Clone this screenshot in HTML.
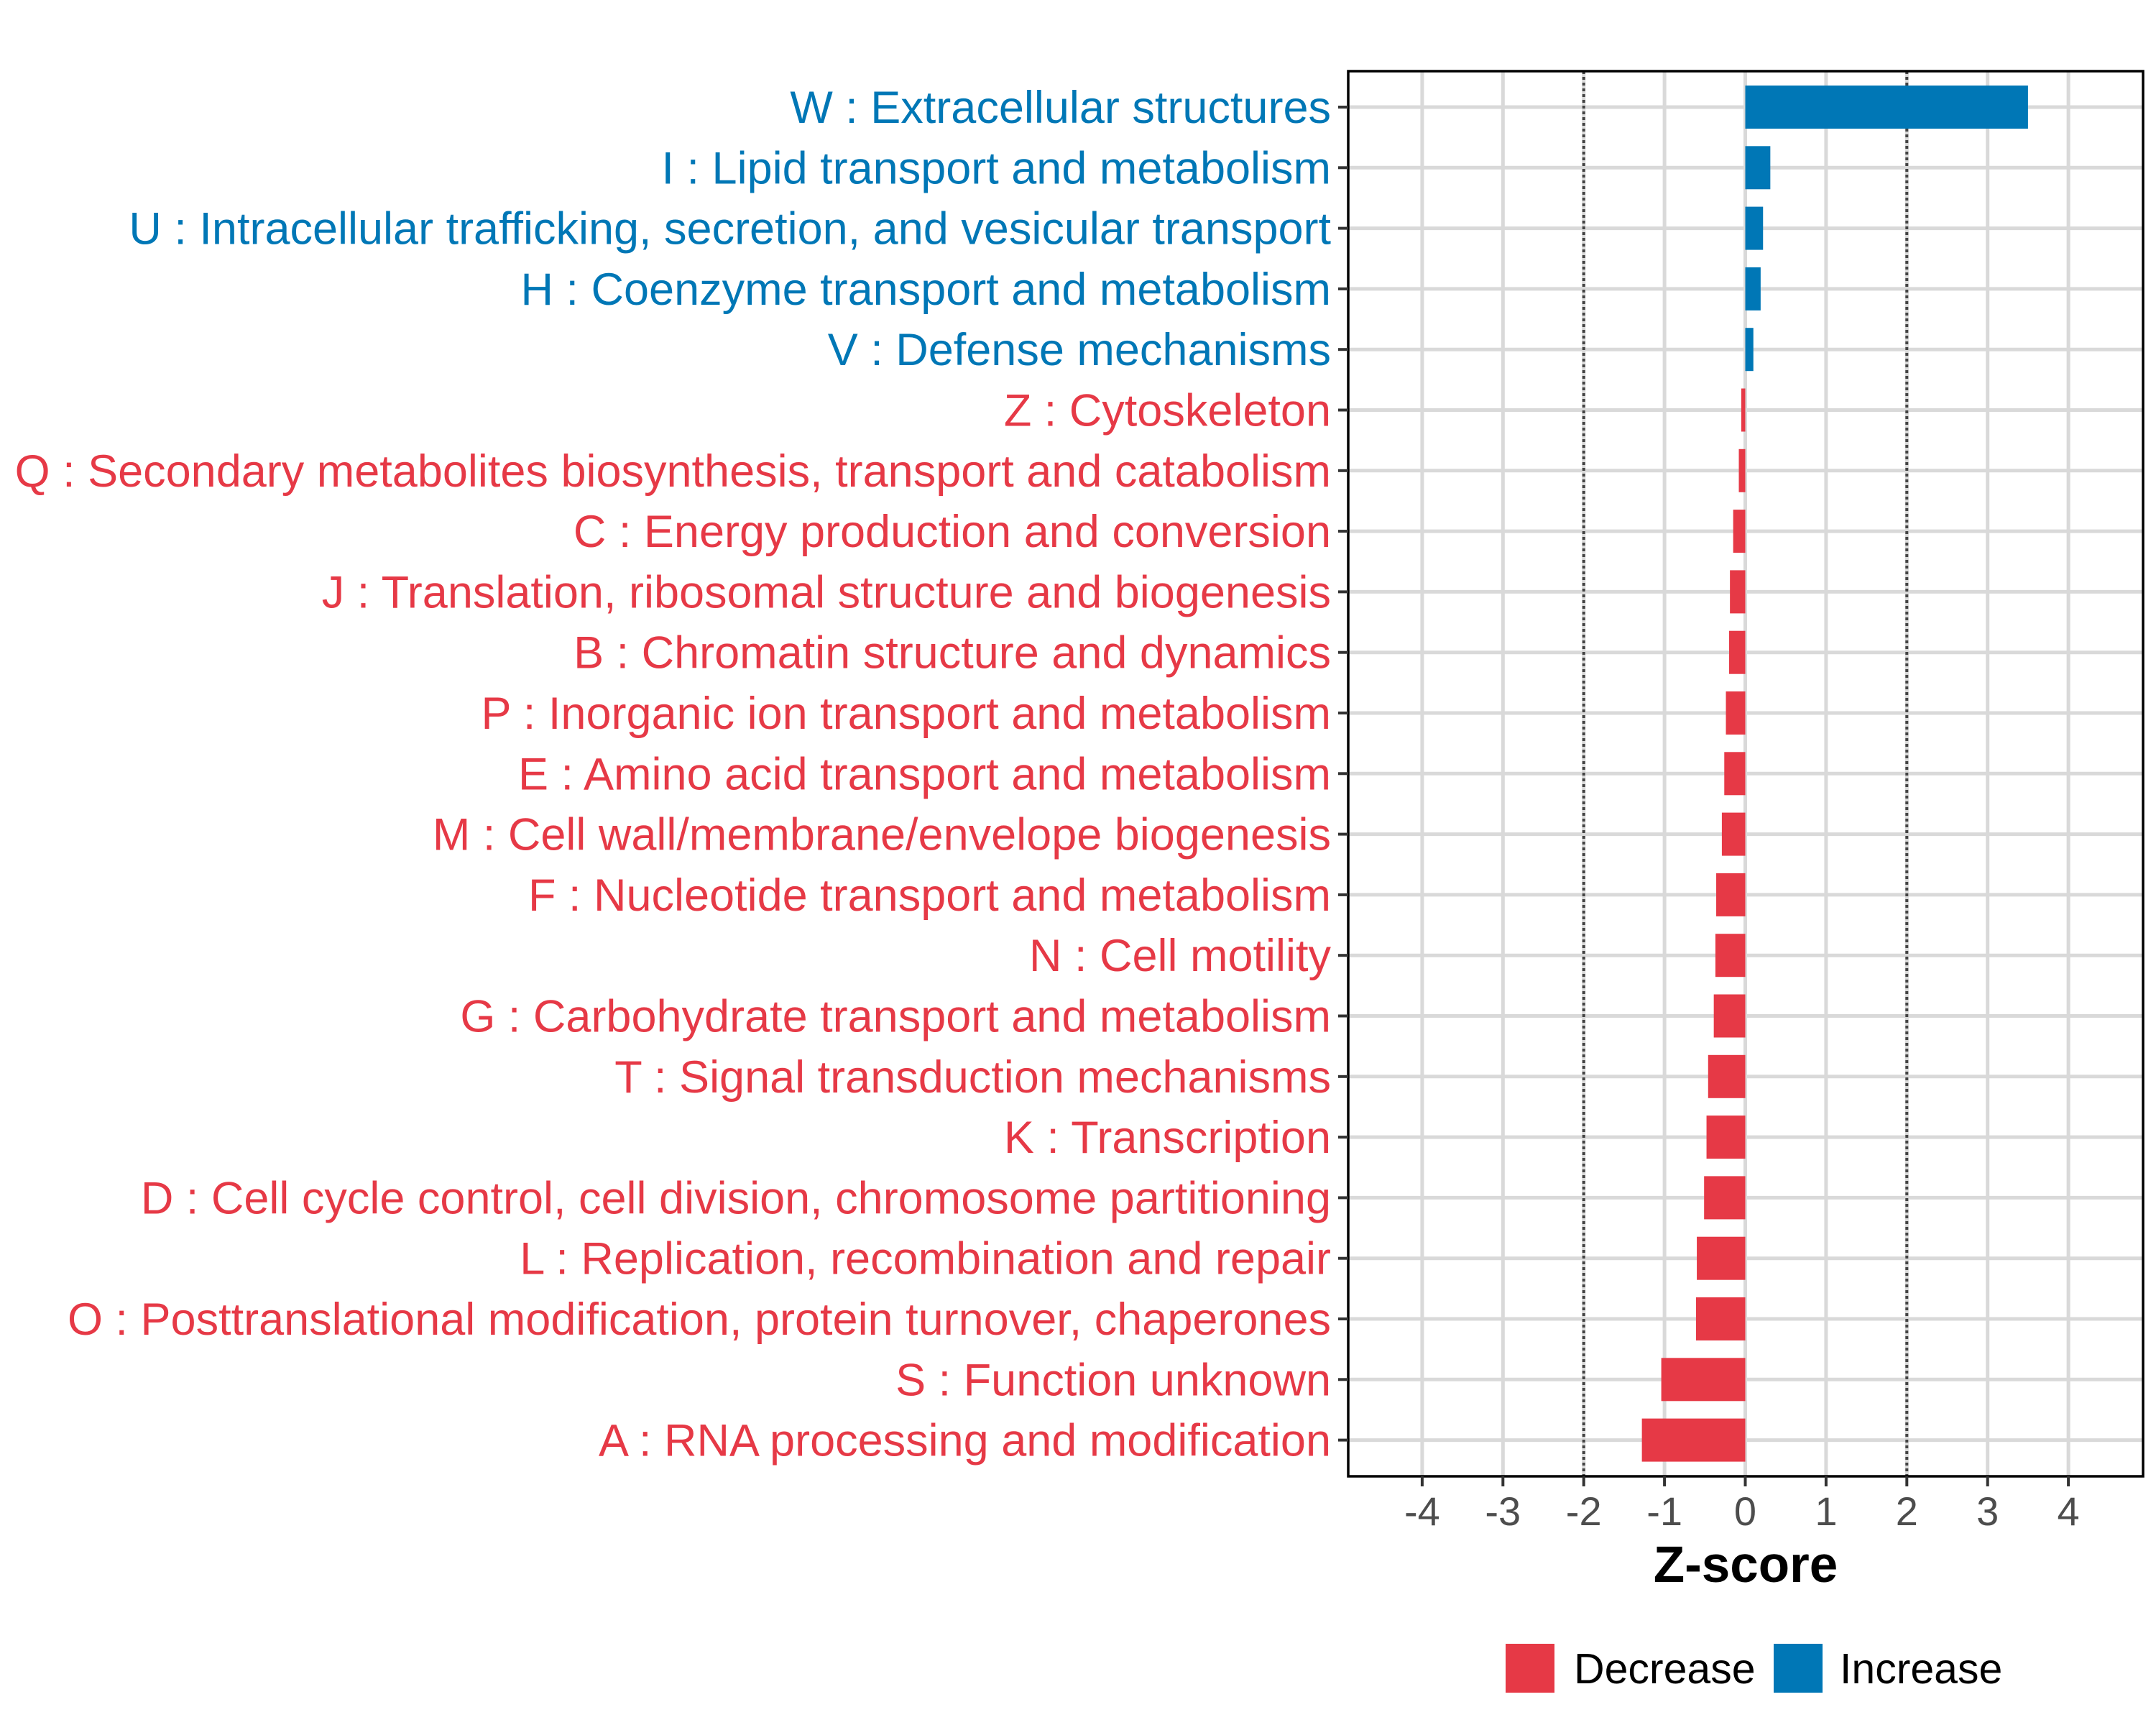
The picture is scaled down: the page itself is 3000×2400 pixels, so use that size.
<!DOCTYPE html>
<html><head><meta charset="utf-8"><style>
html,body{margin:0;padding:0;background:#fff;}
svg{display:block;font-family:"Liberation Sans",sans-serif;}
</style></head><body>
<svg id="chart" width="3000" height="2400" viewBox="0 0 3000 2400" xmlns="http://www.w3.org/2000/svg">
<rect width="3000" height="2400" fill="#fff"/>
<g id="grid"></g><g id="bars"></g><g id="frame"></g><g id="labels"></g>
</svg>
<script>
const categories = ["W : Extracellular structures","I : Lipid transport and metabolism","U : Intracellular trafficking, secretion, and vesicular transport","H : Coenzyme transport and metabolism","V : Defense mechanisms","Z : Cytoskeleton","Q : Secondary metabolites biosynthesis, transport and catabolism","C : Energy production and conversion","J : Translation, ribosomal structure and biogenesis","B : Chromatin structure and dynamics","P : Inorganic ion transport and metabolism","E : Amino acid transport and metabolism","M : Cell wall/membrane/envelope biogenesis","F : Nucleotide transport and metabolism","N : Cell motility","G : Carbohydrate transport and metabolism","T : Signal transduction mechanisms","K : Transcription","D : Cell cycle control, cell division, chromosome partitioning","L : Replication, recombination and repair","O : Posttranslational modification, protein turnover, chaperones","S : Function unknown","A : RNA processing and modification"];
const zscores = [3.5,0.31,0.22,0.19,0.10,-0.05,-0.08,-0.15,-0.19,-0.2,-0.24,-0.26,-0.29,-0.36,-0.37,-0.39,-0.46,-0.48,-0.51,-0.6,-0.61,-1.04,-1.28];
const xTicks = [-4,-3,-2,-1,0,1,2,3,4];
const thresholds = [-2,2];
const legendLabels = ["Decrease","Increase"];

const RED="#e63946", BLUE="#0077b6";
const L=1876,R=2982,T=99,B=2054;
const x = v => 2428.5 + v*112.4;
const y = i => 149 + i*84.3;
const NS="http://www.w3.org/2000/svg";
function mk(tag, attrs, parent){const e=document.createElementNS(NS,tag);for(const k in attrs)e.setAttribute(k,attrs[k]);parent.appendChild(e);return e;}
const grid=document.getElementById('grid'), bars=document.getElementById('bars'), frame=document.getElementById('frame'), labels=document.getElementById('labels');

xTicks.forEach(t=>{
  const g=mk('line',{x1:x(t),x2:x(t),y1:T,y2:B,stroke:'#d9d9d9','stroke-width':5},grid);
  
  
});
categories.forEach((c,i)=>{
  const g=mk('line',{x1:L,x2:R,y1:y(i),y2:y(i),stroke:'#d9d9d9','stroke-width':5},grid);
  
  
});
thresholds.forEach(t=>{
  const d=mk('line',{x1:x(t),x2:x(t),y1:T,y2:B,stroke:'#444','stroke-width':4,'stroke-dasharray':'4 4'},grid);
  
  
});
zscores.forEach((v,i)=>{
  const x0=Math.min(x(0),x(v)), w=Math.abs(x(v)-x(0));
  const r=mk('rect',{x:x0,y:y(i)-30,width:w,height:60,fill:v>=0?BLUE:RED},bars);
  
  
});
const border=mk('rect',{x:L,y:T,width:R-L,height:B-T,fill:'none',stroke:'#000','stroke-width':3.5},frame);


categories.forEach((c,i)=>{
  const tk=mk('line',{x1:L-14,x2:L,y1:y(i),y2:y(i),stroke:'#333','stroke-width':4},frame);
  
  
  const t=mk('text',{x:1852,y:y(i)+22,'text-anchor':'end','font-size':63,fill:zscores[i]>=0?BLUE:RED},labels);
  t.textContent=c;
  
  
});
xTicks.forEach(t=>{
  const tk=mk('line',{x1:x(t),x2:x(t),y1:B,y2:B+14,stroke:'#333','stroke-width':4},frame);
  
  
  const tl=mk('text',{x:x(t),y:2122,'text-anchor':'middle','font-size':56,fill:'#4d4d4d'},labels);
  tl.textContent=String(t);
  
  
});
const title=mk('text',{x:(L+R)/2,y:2201,'text-anchor':'middle','font-size':71,'font-weight':'bold',fill:'#000'},labels);
title.textContent='Z-score';


const keyX=[2095,2468], txtX=[2190,2560], cols=[RED,BLUE];
legendLabels.forEach((lab,i)=>{
  const k=mk('rect',{x:keyX[i],y:2287,width:68,height:68,fill:cols[i]},labels);
  
  
  const t=mk('text',{x:txtX[i],y:2342,'font-size':59,fill:'#000'},labels);
  t.textContent=lab;
  
  
});
</script>
</body></html>
